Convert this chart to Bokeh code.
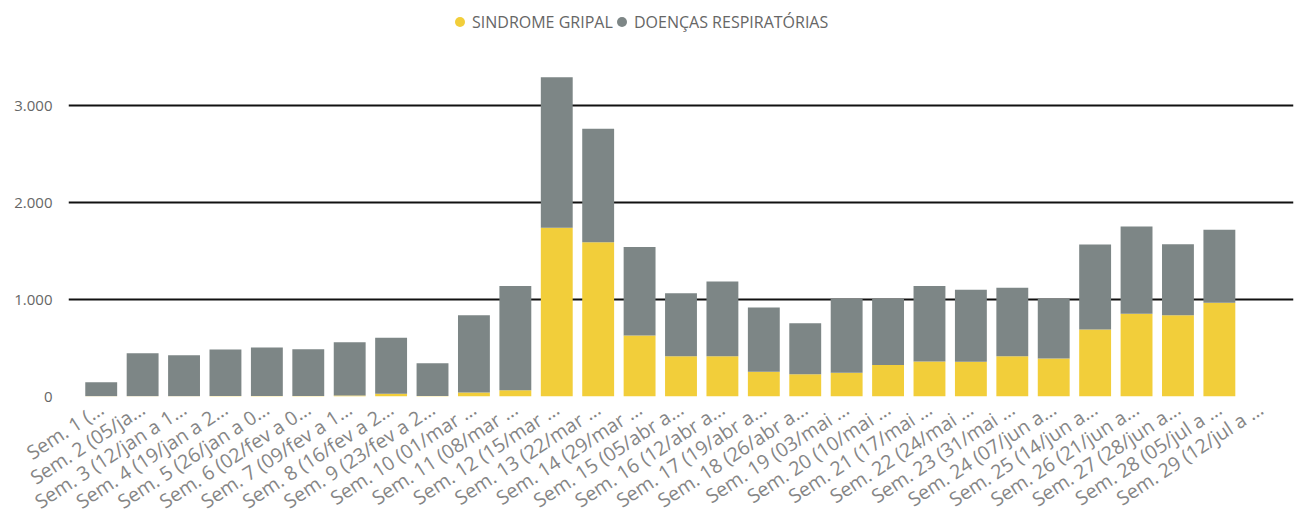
from bokeh.plotting import figure
from bokeh.models import ColumnDataSource, FactorRange, Range1d, FixedTicker, Legend, LegendItem
from bokeh.embed import file_html
from bokeh.resources import INLINE

semanas = [
    "Sem. 1 (…", "Sem. 2 (05/ja…", "Sem. 3 (12/jan a 1…", "Sem. 4 (19/jan a 2…",
    "Sem. 5 (26/jan a 0…", "Sem. 6 (02/fev a 0…", "Sem. 7 (09/fev a 1…", "Sem. 8 (16/fev a 2…",
    "Sem. 9 (23/fev a 2…", "Sem. 10 (01/mar …", "Sem. 11 (08/mar …", "Sem. 12 (15/mar …",
    "Sem. 13 (22/mar …", "Sem. 14 (29/mar …", "Sem. 15 (05/abr a…", "Sem. 16 (12/abr a…",
    "Sem. 17 (19/abr a…", "Sem. 18 (26/abr a…", "Sem. 19 (03/mai …", "Sem. 20 (10/mai …",
    "Sem. 21 (17/mai …", "Sem. 22 (24/mai …", "Sem. 23 (31/mai …", "Sem. 24 (07/jun a…",
    "Sem. 25 (14/jun a…", "Sem. 26 (21/jun a…", "Sem. 27 (28/jun a…", "Sem. 28 (05/jul a …",
    "Sem. 29 (12/jul a …",
]

sindrome_gripal = [3, 3, 3, 4, 4, 5, 10, 28, 6, 40, 65, 1740, 1590, 630, 416, 416,
                   254, 230, 244, 326, 360, 357, 415, 392, 690, 852, 838, 966, 0]
doencas_resp = [144, 442, 423, 481, 501, 483, 550, 577, 337, 798, 1075, 1550, 1170, 910, 649, 770,
                664, 526, 763, 681, 780, 743, 705, 615, 877, 900, 732, 752, 0]

y_ticks = [0, 1000, 2000, 3000]
y_tick_labels = ["0", "1.000", "2.000", "3.000"]

series = ["SINDROME GRIPAL", "DOENÇAS RESPIRATÓRIAS"]
colors = ["#F2CE3A", "#7D8686"]

source = ColumnDataSource(dict(semana=semanas, sg=sindrome_gripal, dr=doencas_resp))

p = figure(
    width=1294, height=532,
    x_range=FactorRange(*semanas, range_padding=0.02),
    y_range=Range1d(0, 4000),
    output_backend="svg", toolbar_location=None,
    min_border_left=68, min_border_right=1, min_border_top=8, min_border_bottom=136,
)
p.outline_line_color = None
p.background_fill_color = "white"
p.border_fill_color = "white"

p.vbar_stack(["sg", "dr"], x="semana", width=0.77, color=colors, line_color=None, source=source)

# legend markers (circles); zero-size points so only the legend shows them
r1 = p.scatter(x="semana", y="sg", source=source, size=0, marker="circle",
               color=colors[0], line_color=None)
r2 = p.scatter(x="semana", y="dr", source=source, size=0, marker="circle",
               color=colors[1], line_color=None)

legend_style = dict(
    orientation="horizontal",
    glyph_width=25, glyph_height=25, label_standoff=0, spacing=0, padding=0, margin=0,
    label_text_font="Open Sans", label_text_font_size="16px", label_text_color="#666666",
    border_line_color=None, background_fill_alpha=0,
)
leg1 = Legend(items=[LegendItem(label=series[0], renderers=[r1])], location=(379, 362), **legend_style)
leg2 = Legend(items=[LegendItem(label=series[1], renderers=[r2])], location=(541, 362), **legend_style)
p.add_layout(leg1)
p.add_layout(leg2)

# grid
p.xgrid.grid_line_color = None
p.ygrid.ticker = FixedTicker(ticks=y_ticks)
p.ygrid.grid_line_color = "#111111"
p.ygrid.grid_line_width = 2

# y axis
p.yaxis.ticker = FixedTicker(ticks=y_ticks)
p.yaxis.major_label_overrides = {t: l for t, l in zip(y_ticks, y_tick_labels)}
p.yaxis.axis_line_color = None
p.yaxis.major_tick_line_color = None
p.yaxis.minor_tick_line_color = None
p.yaxis.major_tick_out = 0
p.yaxis.major_tick_in = 0
p.yaxis.major_label_standoff = 16
p.yaxis.major_label_text_font = "Open Sans"
p.yaxis.major_label_text_font_size = "15px"
p.yaxis.major_label_text_color = "#666666"

# x axis
p.xaxis.axis_line_color = None
p.xaxis.major_tick_line_color = None
p.xaxis.minor_tick_line_color = None
p.xaxis.major_tick_out = 0
p.xaxis.major_tick_in = 0
p.xaxis.major_label_orientation = 0.58
p.xaxis.major_label_standoff = 10
p.xaxis.major_label_text_font = "Open Sans"
p.xaxis.major_label_text_font_size = "19.5px"
p.xaxis.major_label_text_color = "#858585"

open("out.html", "w").write(file_html(p, INLINE))
